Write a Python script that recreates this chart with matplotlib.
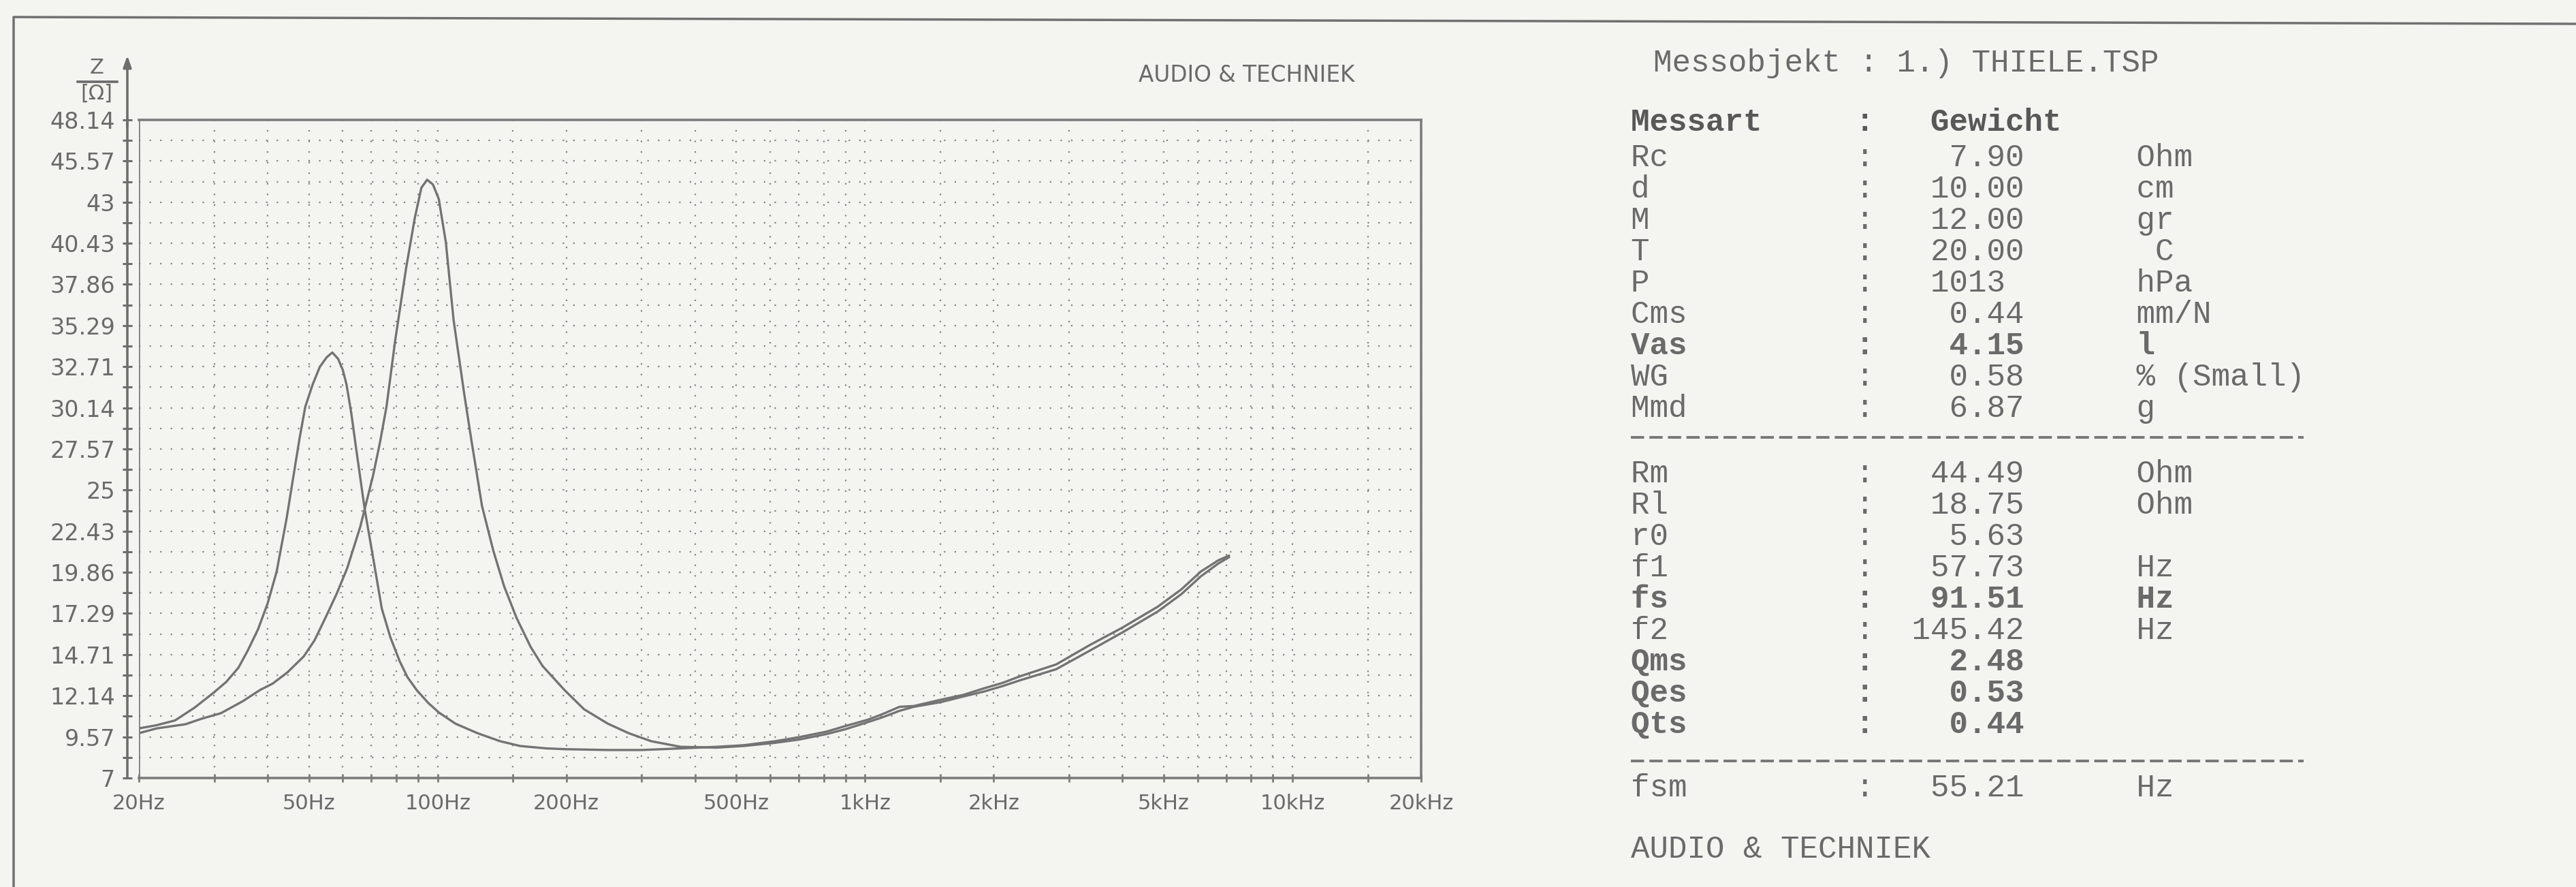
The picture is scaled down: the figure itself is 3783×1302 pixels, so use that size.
import matplotlib
matplotlib.use('Agg')
import matplotlib.pyplot as plt
from matplotlib.lines import Line2D
from matplotlib.ticker import FixedLocator, FixedFormatter, NullFormatter

plt.close('all')

# Impedanzkurve mit Zusatzmasse (Resonanz bei ca. 55 Hz)
freq_a = [20, 22, 24.3, 27, 29.8, 32, 34.2, 36, 38, 40,
          42, 44.3, 46, 47.5, 49, 51, 53, 55, 56.7, 58.5,
          60, 61.2, 62.8, 64.3, 67.5, 70.6, 74, 77.5, 81.5, 85,
          89.3, 95, 100.6, 110, 124, 140, 156, 180, 200, 250,
          300, 370, 450, 520, 616, 700, 813, 900, 1017, 1100,
          1204, 1300, 1508, 1700, 1895, 2100, 2300, 2800, 3350, 4000,
          4834, 5500, 6100, 6700, 7100]
z_a = [10.1, 10.3, 10.6, 11.4, 12.3, 13.0, 13.9, 15.0, 16.3, 17.9,
       19.9, 23.2, 25.9, 28.2, 30.2, 31.6, 32.7, 33.3, 33.6, 33.2,
       32.5, 31.6, 29.8, 27.8, 23.8, 20.8, 17.6, 15.8, 14.3, 13.3,
       12.5, 11.7, 11.1, 10.4, 9.8, 9.3, 9.0, 8.85, 8.8, 8.75,
       8.75, 8.85, 8.95, 9.05, 9.3, 9.55, 9.9, 10.25, 10.65, 11.0,
       11.45, 11.5, 11.9, 12.2, 12.6, 12.95, 13.35, 14.1, 15.3, 16.4,
       17.7, 18.8, 19.9, 20.6, 20.9]

# Impedanzkurve ohne Zusatzmasse (fs ca. 91.5 Hz)
freq_b = [20, 22, 25.7, 28, 31.1, 35, 38.4, 41.1, 44.5, 48.6,
          51.5, 54.6, 58, 61.4, 65.9, 70.6, 73.2, 75.9, 79.6, 84.4,
          88.4, 91.6, 94.5, 97.5, 100.6, 104.5, 109, 115.4, 119.8, 127,
          135, 143, 153, 165, 176, 198, 220, 250, 280, 316,
          370, 450, 520, 616, 700, 813, 900, 1017, 1100, 1204,
          1300, 1508, 1700, 1895, 2100, 2300, 2800, 3350, 4000, 4834,
          5500, 6100, 6700, 7100]
z_b = [9.8, 10.1, 10.36, 10.7, 11.05, 11.8, 12.5, 12.9, 13.6, 14.6,
       15.6, 17.0, 18.5, 20.1, 22.7, 25.9, 27.9, 30.2, 34.4, 38.9,
       42.0, 43.9, 44.4, 44.1, 43.2, 40.5, 35.6, 31.0, 28.2, 24.0,
       21.2, 19.0, 17.0, 15.2, 14.0, 12.5, 11.3, 10.4, 9.8, 9.3,
       8.95, 8.9, 9.0, 9.2, 9.4, 9.75, 10.05, 10.5, 10.8, 11.2,
       11.45, 11.75, 12.1, 12.4, 12.75, 13.1, 13.8, 14.95, 16.1, 17.4,
       18.5, 19.6, 20.4, 20.8]

# Achsenbeschriftung
y_ticks = [7, 9.57, 12.14, 14.71, 17.29, 19.86, 22.43, 25, 27.57,
           30.14, 32.71, 35.29, 37.86, 40.43, 43, 45.57, 48.14]
y_labels = ['7', '9.57', '12.14', '14.71', '17.29', '19.86', '22.43', '25', '27.57',
            '30.14', '32.71', '35.29', '37.86', '40.43', '43', '45.57', '48.14']
x_ticks = [20, 50, 100, 200, 500, 1000, 2000, 5000, 10000, 20000]
x_labels = ['20Hz', '50Hz', '100Hz', '200Hz', '500Hz', '1kHz', '2kHz', '5kHz', '10kHz', '20kHz']
x_minor = [30, 40, 60, 70, 80, 90, 150, 300, 400, 600, 700, 800, 900,
           1500, 3000, 4000, 6000, 7000, 8000, 9000, 15000]

# Messprotokoll (rechte Seite)
obj_line = 'Messobjekt : 1.) THIELE.TSP'
head_label, head_value = 'Messart', 'Gewicht'
top_labels = ['Rc', 'd', 'M', 'T', 'P', 'Cms', 'Vas', 'WG', 'Mmd']
top_values = ['7.90', '10.00', '12.00', '20.00', '1013', '0.44', '4.15', '0.58', '6.87']
top_units = ['Ohm', 'cm', 'gr', ' C', 'hPa', 'mm/N', 'l', '% (Small)', 'g']
mid_labels = ['Rm', 'Rl', 'r0', 'f1', 'fs', 'f2', 'Qms', 'Qes', 'Qts']
mid_values = ['44.49', '18.75', '5.63', '57.73', '91.51', '145.42', '2.48', '0.53', '0.44']
mid_units = ['Ohm', 'Ohm', '', 'Hz', 'Hz', 'Hz', '', '', '']
bold_rows = ['Vas', 'fs', 'Qms', 'Qes', 'Qts']
fsm_label, fsm_value, fsm_unit = 'fsm', '55.21', 'Hz'
footer = 'AUDIO & TECHNIEK'

W, H = 3783, 1302
paper = '#f4f4f1'
ink = '#737373'
text_col = '#6a6a6a'


def fx(x):
    return x / W


def fy(y):
    return 1 - y / H


def row(label, value, unit=''):
    # feste Spalten wie im DOS-Ausdruck
    if '.' in value:
        v = value.rjust(8)
    else:
        v = (value + ' ').rjust(8)
    return f'{label:<12}:{v}      {unit}'.rstrip()


fig = plt.figure(figsize=(W / 100, H / 100), dpi=100, facecolor=paper)

ax = fig.add_axes([fx(204), fy(1142), (2087 - 204) / W, (1142 - 176) / H])
ax.set_facecolor('none')

ax.plot(freq_a, z_a, color=ink, lw=2.4, zorder=3)
ax.plot(freq_b, z_b, color=ink, lw=2.4, zorder=3)

ax.set_xscale('log')
ax.set_xlim(20, 20000)
ax.set_ylim(7, 48.14)

ax.xaxis.set_major_locator(FixedLocator(x_ticks))
ax.xaxis.set_major_formatter(FixedFormatter(x_labels))
ax.xaxis.set_minor_locator(FixedLocator(x_minor))
ax.xaxis.set_minor_formatter(NullFormatter())

y_half = [(a + b) / 2 for a, b in zip(y_ticks[:-1], y_ticks[1:])]
ax.yaxis.set_major_locator(FixedLocator(y_ticks))
ax.yaxis.set_major_formatter(FixedFormatter(y_labels))
ax.yaxis.set_minor_locator(FixedLocator(y_half))

# gepunktetes Raster, weit auseinander wie im Ausdruck
ax.grid(True, which='both', color='#858585', lw=1.6, linestyle=(0, (1, 6)))
ax.set_axisbelow(True)

for side in ['top', 'right', 'bottom']:
    ax.spines[side].set_color('#7c7c7c')
    ax.spines[side].set_linewidth(2.6)
ax.spines['left'].set_position(('outward', 12.2))
ax.spines['left'].set_color('#6e6e6e')
ax.spines['left'].set_linewidth(2.6)
ax.axvline(20, color='#7c7c7c', lw=2.6, zorder=4)

ax.tick_params(axis='y', which='both', direction='inout', length=10, width=2.2,
               color='#6e6e6e', labelsize=24, labelcolor=text_col, pad=8)
ax.tick_params(axis='x', which='both', direction='inout', length=9, width=2,
               color='#7c7c7c', labelsize=22, labelcolor=text_col, pad=12)

# Pfeil an der Z-Achse
x_ax = -17 / 1883
ax.annotate('', xy=(x_ax, 1.098), xytext=(x_ax, 0.99), xycoords='axes fraction',
            arrowprops=dict(arrowstyle='-|>,head_length=1.0,head_width=0.35',
                            color='#6e6e6e', lw=2.6, shrinkA=0, shrinkB=0),
            annotation_clip=False)

fig.text(fx(142), fy(100), 'Z', ha='center', va='center', fontsize=22, color=text_col)
fig.add_artist(Line2D([fx(114), fx(172)], [fy(120), fy(120)], color=text_col, lw=2.6))
fig.text(fx(142), fy(137), '[Ω]', ha='center', va='center', fontsize=22, color=text_col)

fig.text(fx(1831), fy(110), 'AUDIO & TECHNIEK', ha='center', va='center',
         fontsize=23.5, color=text_col)

# Seitenrand
fig.add_artist(Line2D([fx(20), fx(20), fx(W)], [fy(H), fy(25), fy(35)],
                      color='#707070', lw=2.5))

# Messprotokoll
mono = 'Liberation Mono'
fs_txt = 33
fig.text(fx(2428), fy(93), obj_line, family=mono, fontsize=fs_txt, color=text_col, va='center')
fig.text(fx(2395), fy(180), f'{head_label:<12}:   {head_value}', family=mono,
         fontsize=fs_txt, color='#585858', weight='bold', va='center')

for i, (lab, val, unit) in enumerate(zip(top_labels, top_values, top_units)):
    w = 'bold' if lab in bold_rows else 'normal'
    fig.text(fx(2395), fy(232 + i * 46), row(lab, val, unit), family=mono,
             fontsize=fs_txt, color=text_col, weight=w, va='center')

fig.add_artist(Line2D([fx(2395), fx(3383)], [fy(642), fy(642)], color='#777777',
                      lw=2.8, dashes=[5, 2]))

for i, (lab, val, unit) in enumerate(zip(mid_labels, mid_values, mid_units)):
    w = 'bold' if lab in bold_rows else 'normal'
    fig.text(fx(2395), fy(696 + i * 46), row(lab, val, unit), family=mono,
             fontsize=fs_txt, color=text_col, weight=w, va='center')

fig.add_artist(Line2D([fx(2395), fx(3383)], [fy(1117), fy(1117)], color='#777777',
                      lw=2.8, dashes=[5, 2]))

fig.text(fx(2395), fy(1157), row(fsm_label, fsm_value, fsm_unit), family=mono,
         fontsize=fs_txt, color=text_col, va='center')
fig.text(fx(2395), fy(1247), footer, family=mono, fontsize=fs_txt, color=text_col, va='center')

fig.savefig('out.png', dpi=100, facecolor=paper)
